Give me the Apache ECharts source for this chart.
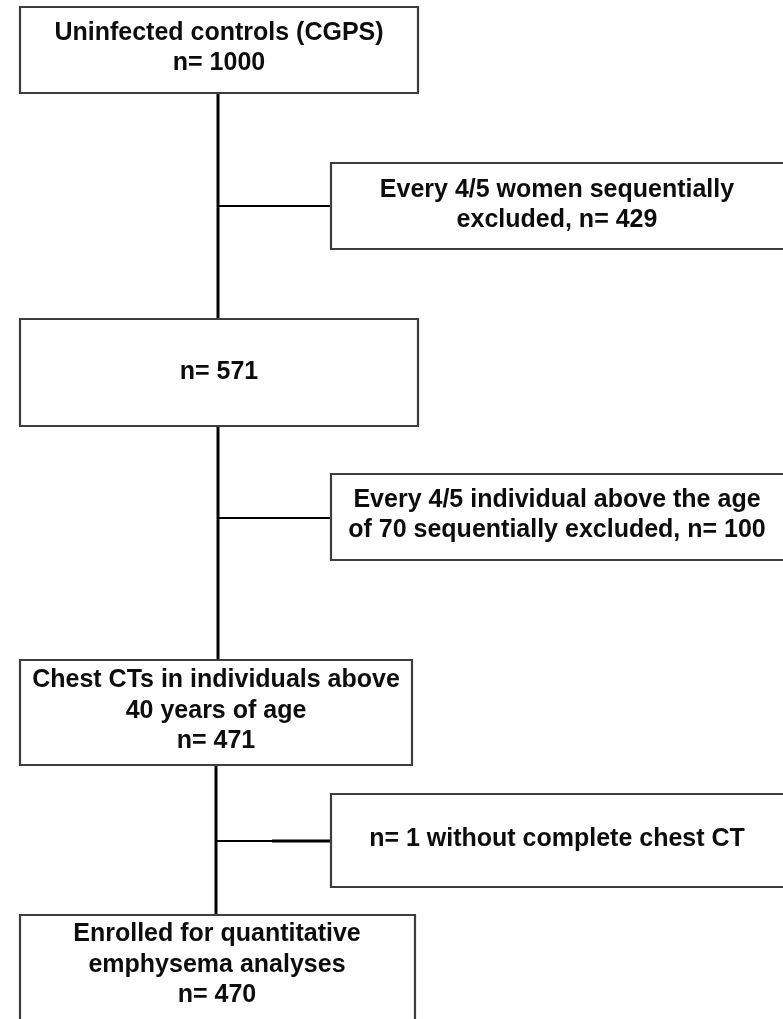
<!DOCTYPE html>
<html><head><meta charset="utf-8">
<script src="https://cdn.jsdelivr.net/npm/echarts@6/dist/echarts.min.js"></script>
<style>html,body{margin:0;padding:0;background:#fff}#c{width:783px;height:1019px}</style>
</head><body><div id="c"></div>
<script>
// ---- data ----
const mainLabels = [
  'Uninfected controls (CGPS)\nn= {n}',
  'n= {n}',
  'Chest CTs in individuals above\n40 years of age\nn= {n}',
  'Enrolled for quantitative\nemphysema analyses\nn= {n}'
];
const mainCounts = [1000, 571, 471, 470];
const exclusionLabels = [
  'Every 4/5 women sequentially\nexcluded, n= {n}',
  'Every 4/5 individual above the age\nof 70 sequentially excluded, n= {n}',
  'n= {n} without complete chest CT'
];
const exclusionCounts = [429, 100, 1];

// ---- layout (pixel space of the canvas) ----
// [x0, y0, x1, y1, textX, textY]
const mainLayout = [
  [20, 7, 418, 93, 219, 48],
  [20, 319, 418, 426, 219, 372],
  [20, 660, 412, 765, 216, 711],
  [20, 915, 415, 1045, 217, 965]
];
const sideLayout = [
  [331, 163, 790, 249, 557, 205],
  [331, 474, 790, 560, 557, 515],
  [331, 794, 790, 887, 557, 839]
];
const spineX = [218, 218, 216];
const connectorY = [206, 518, 841];
const connectorThickFrom = [null, null, 272];

function boxItem(api, L, text) {
  const p0 = api.coord([L[0], L[1]]);
  const p1 = api.coord([L[2], L[3]]);
  const t = api.coord([L[4], L[5]]);
  return {
    type: 'group',
    children: [
      { type: 'rect', shape: { x: p0[0], y: p0[1], width: p1[0] - p0[0], height: p1[1] - p0[1] },
        style: { fill: '#fff', stroke: '#3d3d3d', lineWidth: 2.2 } },
      { type: 'text', style: { text: text, x: t[0], y: t[1],
        fontFamily: '"Liberation Sans", Arial, sans-serif', fontWeight: 'bold', fontSize: 25,
        fill: '#0d0d0d', align: 'center', verticalAlign: 'middle', lineHeight: 30.5 } }
    ]
  };
}

const chart = echarts.init(document.getElementById('c'), null, { renderer: 'canvas' });
chart.setOption({
  animation: false,
  backgroundColor: '#fff',
  grid: { left: 0, right: 0, top: 0, bottom: 0 },
  xAxis: { type: 'value', min: 0, max: 783, show: false },
  yAxis: { type: 'value', min: 0, max: 1019, inverse: true, show: false },
  series: [
    { // connectors
      type: 'custom', silent: true, clip: false, z: 1,
      data: spineX.map((x, i) => [i]),
      renderItem: function (params, api) {
        const i = params.dataIndex;
        const x = spineX[i];
        const top = api.coord([x, mainLayout[i][3]]);
        const bot = api.coord([x, mainLayout[i + 1][1]]);
        const c0 = api.coord([x, connectorY[i]]);
        const c1 = api.coord([sideLayout[i][0], connectorY[i]]);
        const children = [
          { type: 'line', shape: { x1: top[0], y1: top[1], x2: bot[0], y2: bot[1] },
            style: { stroke: '#000', lineWidth: 3 } },
          { type: 'line', shape: { x1: c0[0], y1: c0[1], x2: c1[0], y2: c1[1] },
            style: { stroke: '#000', lineWidth: 2.2 } }
        ];
        if (connectorThickFrom[i] != null) {
          const t0 = api.coord([connectorThickFrom[i], connectorY[i]]);
          children.push({ type: 'line', shape: { x1: t0[0], y1: t0[1], x2: c1[0], y2: c1[1] },
            style: { stroke: '#000', lineWidth: 3.2 } });
        }
        return { type: 'group', children: children };
      }
    },
    { // main boxes
      type: 'custom', silent: true, clip: false, z: 2,
      data: mainCounts.map((n, i) => [i, n]),
      renderItem: function (params, api) {
        const i = params.dataIndex;
        return boxItem(api, mainLayout[i], mainLabels[i].replace('{n}', mainCounts[i]));
      }
    },
    { // exclusion boxes
      type: 'custom', silent: true, clip: false, z: 2,
      data: exclusionCounts.map((n, i) => [i, n]),
      renderItem: function (params, api) {
        const i = params.dataIndex;
        return boxItem(api, sideLayout[i], exclusionLabels[i].replace('{n}', exclusionCounts[i]));
      }
    }
  ]
});
</script>
</body></html>
